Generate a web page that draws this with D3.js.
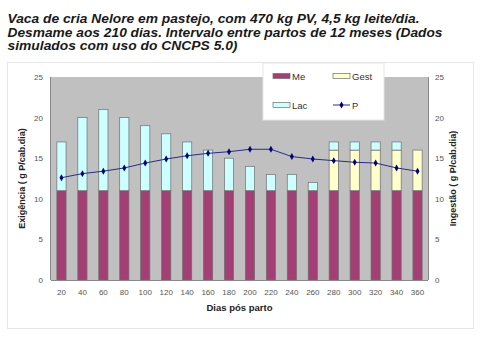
<!DOCTYPE html>
<html>
<head>
<meta charset="utf-8">
<script src="https://cdn.jsdelivr.net/npm/d3@7"></script>
<style>
  body { margin: 0; background: #fff; }
  svg { font-family: "Liberation Sans", Arial, sans-serif; }
</style>
</head>
<body>
<svg id="chart" width="491" height="340"></svg>
<script>
// data
const dias = [20, 40, 60, 80, 100, 120, 140, 160, 180, 200, 220, 240, 260, 280, 300, 320, 340, 360];
const me   = [11, 11, 11, 11, 11, 11, 11, 11, 11, 11, 11, 11, 11, 11, 11, 11, 11, 11];
const gest = [0, 0, 0, 0, 0, 0, 0, 0, 0, 0, 0, 0, 0, 5, 5, 5, 5, 5];
const lac  = [6, 9, 10, 9, 8, 7, 6, 5, 4, 3, 2, 2, 1, 1, 1, 1, 1, 0];
const pIng = [12.6, 13.1, 13.4, 13.8, 14.4, 14.9, 15.3, 15.6, 15.8, 16.1, 16.1, 15.2, 14.9, 14.7, 14.5, 14.4, 13.8, 13.4];
const yTicks = [0, 5, 10, 15, 20, 25];

const titleLines = [
  'Vaca de cria Nelore em pastejo, com 470 kg PV, 4,5 kg leite/dia.',
  'Desmame aos 210 dias. Intervalo entre partos de 12 meses (Dados',
  'simulados com uso do CNCPS 5.0)'
];

const series = [
  {key: 'Me', values: me, fill: '#a33f74'},
  {key: 'Gest', values: gest, fill: '#ffffcc'},
  {key: 'Lac', values: lac, fill: '#ccffff'}
];

const svg = d3.select('#chart');
const margin = {left: 51, top: 77, right: 63, bottom: 60};
const w = 491 - margin.left - margin.right;
const h = 340 - margin.top - margin.bottom;

// title (the original font runs a bit differently, so stretch each line to its width)
const titleWidths = [412, 435, 230];
svg.append('g').selectAll('text').data(titleLines).enter().append('text')
  .attr('x', 7.5).attr('y', (d, i) => 22.7 + i * 13.8)
  .attr('font-size', 13).attr('font-weight', 'bold').attr('font-style', 'italic')
  .attr('fill', '#1a1a1a')
  .attr('textLength', (d, i) => titleWidths[i]).attr('lengthAdjust', 'spacingAndGlyphs')
  .text(d => d);

// chart area border
svg.append('rect').attr('x', 7.5).attr('y', 62.5).attr('width', 466).attr('height', 266)
  .attr('fill', 'none').attr('stroke', '#e6e6e6');

const xScale = d3.scaleBand().domain(dias).range([0, w]).paddingInner(0.56).paddingOuter(0.28);
const yScale = d3.scaleLinear().domain([0, 25]).range([h, 0]);

const g = svg.append('g').attr('transform', `translate(${margin.left},${margin.top})`);
g.append('rect').attr('width', w).attr('height', h).attr('fill', '#c0c0c0');

// stacked bars
const rows = dias.map((d, i) => ({dia: d, Me: me[i], Gest: gest[i], Lac: lac[i]}));
const stack = d3.stack().keys(series.map(s => s.key))(rows);
const layers = g.selectAll('.layer').data(stack).enter().append('g')
  .attr('fill', (d, i) => series[i].fill);
layers.selectAll('rect').data(d => d.filter(v => v[1] > v[0])).enter().append('rect')
  .attr('x', d => xScale(d.data.dia))
  .attr('width', xScale.bandwidth())
  .attr('y', d => yScale(d[1]))
  .attr('height', d => yScale(d[0]) - yScale(d[1]))
  .attr('stroke', '#6e6e6e').attr('stroke-width', 0.7);

// axes lines
g.append('line').attr('x1', 0).attr('x2', w).attr('y1', h + 0.5).attr('y2', h + 0.5).attr('stroke', '#888');
g.append('line').attr('x1', -0.5).attr('x2', -0.5).attr('y1', 0).attr('y2', h).attr('stroke', '#888');
g.append('line').attr('x1', w + 0.5).attr('x2', w + 0.5).attr('y1', 0).attr('y2', h).attr('stroke', '#888');

// P line
const line = d3.line().x((d, i) => xScale(dias[i]) + xScale.bandwidth() / 2).y(d => yScale(d));
g.append('path').datum(pIng).attr('d', line).attr('fill', 'none').attr('stroke', '#2a2a8c').attr('stroke-width', 1);
g.selectAll('.pt').data(pIng).enter().append('path')
  .attr('transform', (d, i) => `translate(${xScale(dias[i]) + xScale.bandwidth() / 2},${yScale(d)})`)
  .attr('d', d3.symbol(d3.symbolDiamond, 14)).attr('fill', '#000080');

// tick labels
const tickColor = '#555';
g.selectAll('.yl').data(yTicks).enter().append('text')
  .attr('x', -8).attr('y', d => yScale(d) + 3).attr('text-anchor', 'end')
  .attr('font-size', 8).attr('fill', tickColor).text(d => d);
g.selectAll('.yr').data(yTicks).enter().append('text')
  .attr('x', w + 7).attr('y', d => yScale(d) + 3)
  .attr('font-size', 8).attr('fill', tickColor).text(d => d);
g.selectAll('.xl').data(dias).enter().append('text')
  .attr('x', d => xScale(d) + xScale.bandwidth() / 2).attr('y', h + 14.5).attr('text-anchor', 'middle')
  .attr('font-size', 8).attr('fill', tickColor).text(d => d);

// axis titles
g.append('text').attr('x', w / 2).attr('y', h + 31).attr('text-anchor', 'middle')
  .attr('font-size', 9.5).attr('font-weight', 'bold').attr('fill', '#222').text('Dias pós parto');
g.append('text').attr('transform', `translate(-26,${h / 2}) rotate(-90)`).attr('text-anchor', 'middle')
  .attr('font-size', 9).attr('font-weight', 'bold').attr('fill', '#222').text('Exigência ( g P/cab.dia)');
g.append('text').attr('transform', `translate(${w + 28},${h / 2}) rotate(-90)`).attr('text-anchor', 'middle')
  .attr('font-size', 9).attr('font-weight', 'bold').attr('fill', '#222').text('Ingestão ( g P/cab.dia)');

// legend
const legend = svg.append('g').attr('transform', 'translate(263,63)');
legend.append('rect').attr('width', 121).attr('height', 57).attr('fill', '#fff').attr('stroke', '#e6e6e6');
const legItems = [
  {key: 'Me', fill: series[0].fill, x: 10, y: 13},
  {key: 'Gest', fill: series[1].fill, x: 70, y: 13},
  {key: 'Lac', fill: series[2].fill, x: 10, y: 42}
];
legItems.forEach(it => {
  legend.append('rect').attr('x', it.x).attr('y', it.y - 2.5).attr('width', 17).attr('height', 5)
    .attr('fill', it.fill).attr('stroke', '#6e6e6e').attr('stroke-width', 0.7);
  legend.append('text').attr('x', it.x + 19).attr('y', it.y + 3.5).attr('font-size', 9.5).attr('fill', '#333').text(it.key);
});
legend.append('line').attr('x1', 70).attr('x2', 87).attr('y1', 42).attr('y2', 42).attr('stroke', '#2a2a8c');
legend.append('path').attr('transform', 'translate(78.5,42)').attr('d', d3.symbol(d3.symbolDiamond, 14)).attr('fill', '#000080');
legend.append('text').attr('x', 89).attr('y', 45.5).attr('font-size', 9.5).attr('fill', '#333').text('P');
</script>
</body>
</html>
